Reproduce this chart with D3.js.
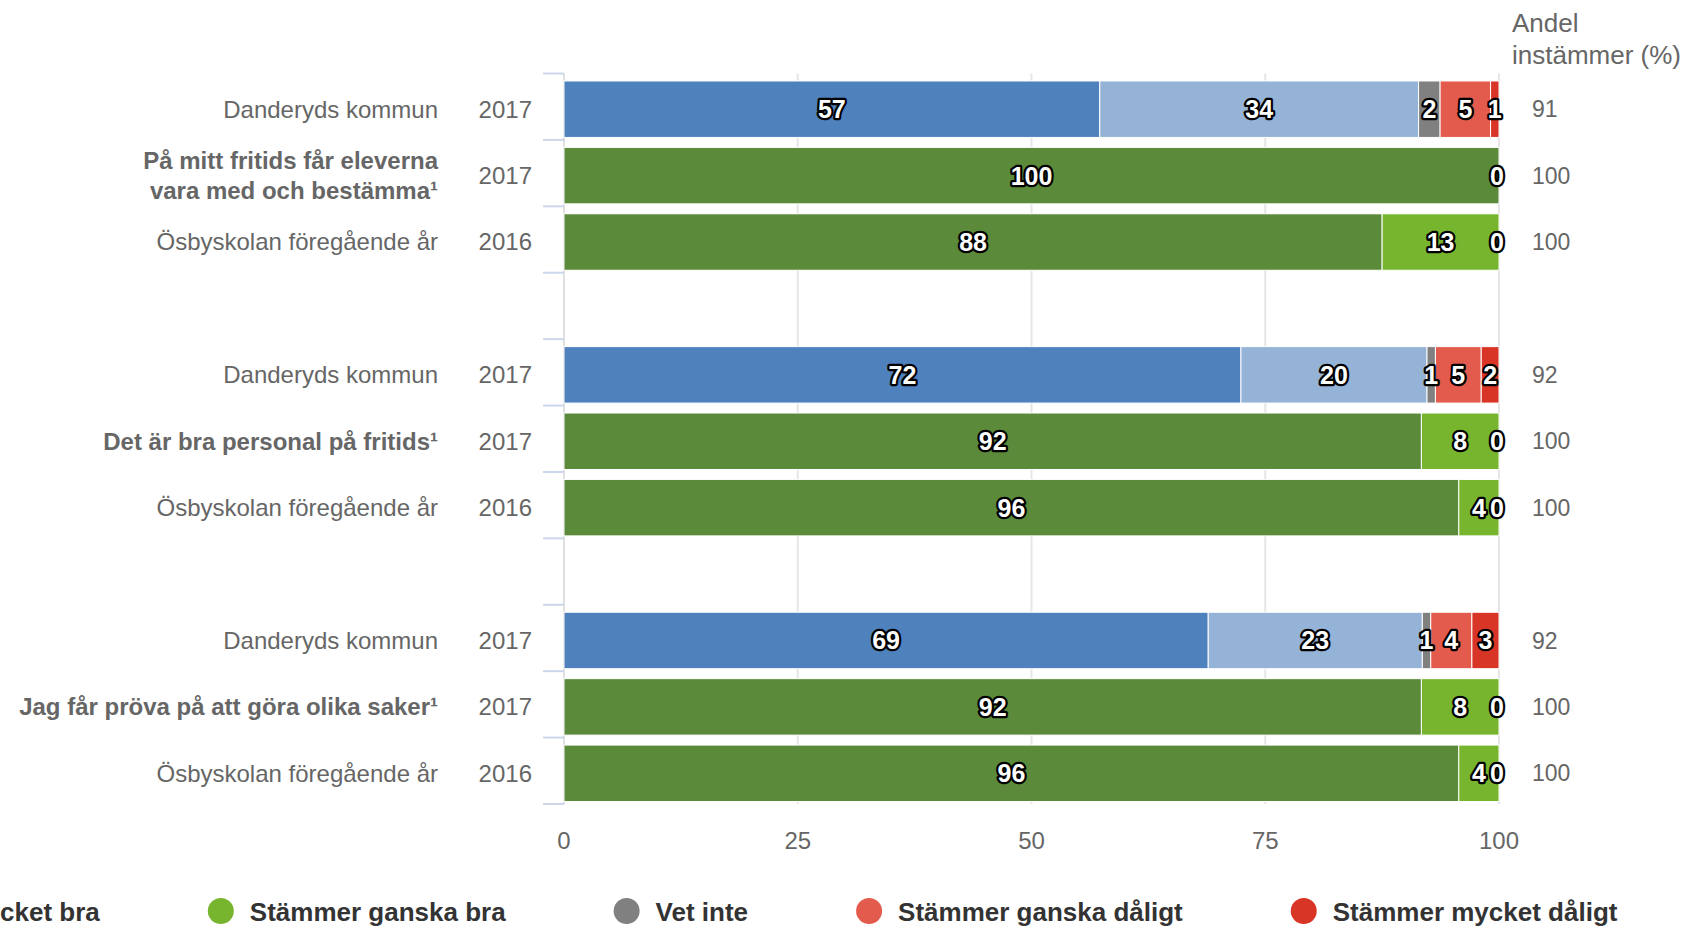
<!DOCTYPE html>
<html>
<head>
<meta charset="utf-8">
<script src="https://cdn.jsdelivr.net/npm/d3@7"></script>
<style>
  body { margin: 0; background: #fff; }
  svg { display: block; font-family: "Liberation Sans", Arial, sans-serif; }
</style>
</head>
<body>
<div id="chart"></div>
<script>
// Data (one entry per bar row, grouped by question)
const questions = [
  "På mitt fritids får eleverna\nvara med och bestämma¹",
  "Det är bra personal på fritids¹",
  "Jag får pröva på att göra olika saker¹"
];
const rowUnits = ["Danderyds kommun", null, "Ösbyskolan föregående år"];
const rowYears = ["2017", "2017", "2016"];
const seriesNames = ["Stämmer mycket bra", "Stämmer ganska bra", "Vet inte", "Stämmer ganska dåligt", "Stämmer mycket dåligt"];

const mycketBra    = [57.3, 100, 87.5, 72.4, 91.7, 95.7, 68.9, 91.7, 95.7];
const ganskaBra    = [34.1, null, 12.5, 19.9, 8.3, 4.3, 22.9, 8.3, 4.3];
const vetInte      = [2.3, null, null, 0.9, null, null, 0.9, null, null];
const ganskaDaligt = [5.4, 0, 0, 4.9, 0, 0, 4.4, 0, 0];
const mycketDaligt = [0.9, null, null, 1.9, null, null, 2.9, null, null];
const andel        = [91, 100, 100, 92, 100, 100, 92, 100, 100];

const kommunColors = ["#4f81bd", "#95b3d7", "#808080", "#e35b4d", "#d93526"];
const skolaColors  = ["#5b8a3a", "#77b52f", "#808080", "#e35b4d", "#d93526"];
const xTicks = [0, 25, 50, 75, 100];

const width = 1700, height = 929;
const allSeries = [mycketBra, ganskaBra, vetInte, ganskaDaligt, mycketDaligt];

const svg = d3.select("#chart").append("svg")
  .attr("width", width)
  .attr("height", height);

// slots: 3 rows per question plus one empty slot between questions
const slotCount = questions.length * 4 - 1;
const rowSlot = i => Math.floor(i / 3) * 4 + (i % 3);

const plotTop = 73.5, plotBottom = 804;
const x = d3.scaleLinear().domain([0, 100]).range([564, 1499]);
const y = d3.scaleBand()
  .domain(d3.range(slotCount))
  .range([plotTop, plotBottom])
  .paddingInner(0.15)
  .paddingOuter(0.075);
const barShift = 2.5;
const step = y.step();
const tickY = d => d < slotCount ? y(d) - y.paddingInner() * step / 2 : plotBottom;

// grid lines
svg.append("g")
  .selectAll("line")
  .data(xTicks.slice(1))
  .join("line")
  .attr("x1", d => x(d)).attr("x2", d => x(d))
  .attr("y1", plotTop).attr("y2", plotBottom)
  .attr("stroke", "#e6e6e6")
  .attr("stroke-width", 2);

// y axis line and category ticks
svg.append("line")
  .attr("x1", x(0)).attr("x2", x(0))
  .attr("y1", plotTop).attr("y2", plotBottom)
  .attr("stroke", "#e0e0e0")
  .attr("stroke-width", 2);

svg.append("g")
  .selectAll("line")
  .data(d3.range(slotCount + 1))
  .join("line")
  .attr("x1", x(0) - 21).attr("x2", x(0))
  .attr("y1", tickY)
  .attr("y2", tickY)
  .attr("stroke", "#ccd6eb")
  .attr("stroke-width", 2);

// rows
const rows = d3.range(mycketBra.length).map(i => {
  const q = Math.floor(i / 3), r = i % 3;
  let x0 = 0;
  const segs = [];
  allSeries.forEach((s, k) => {
    const v = s[i];
    if (v === null) return;
    segs.push({k, v, x0, x1: x0 + v, row: i});
    x0 += v;
  });
  return {
    i, q, r,
    slot: rowSlot(i),
    unit: r === 1 ? questions[q] : rowUnits[r],
    bold: r === 1,
    year: rowYears[r],
    andel: andel[i],
    colors: r === 0 ? kommunColors : skolaColors,
    segs
  };
});

const barG = svg.append("g");
rows.forEach(row => {
  const top = y(row.slot) + barShift;
  barG.append("g")
    .selectAll("rect")
    .data(row.segs.filter(s => s.v > 0))
    .join("rect")
    .attr("x", s => x(s.x0))
    .attr("width", s => x(s.x1) - x(s.x0))
    .attr("y", top)
    .attr("height", y.bandwidth())
    .attr("fill", s => row.colors[s.k])
    .attr("stroke", "#fff")
    .attr("stroke-width", 1);
});

// data labels
const labelG = svg.append("g");
rows.forEach(row => {
  const cy = y(row.slot) + barShift + y.bandwidth() / 2;
  labelG.append("g")
    .selectAll("text")
    .data(row.segs)
    .join("text")
    .attr("x", s => x((s.x0 + s.x1) / 2) - (s.v === 0 ? 2 : 0))
    .attr("y", cy)
    .attr("dy", "0.36em")
    .attr("text-anchor", "middle")
    .attr("font-size", 25)
    .attr("font-weight", "bold")
    .attr("fill", "#fff")
    .attr("stroke", "#000")
    .attr("stroke-width", 4.5)
    .attr("stroke-linejoin", "round")
    .attr("paint-order", "stroke")
    .text(s => Math.round(s.v));
});

// category labels
const catG = svg.append("g");
rows.forEach(row => {
  const cy = y(row.slot) + barShift + y.bandwidth() / 2;
  const lines = row.unit.split("\n");
  const t = catG.append("text")
    .attr("x", 438)
    .attr("y", cy)
    .attr("text-anchor", "end")
    .attr("font-size", 24)
    .attr("font-weight", row.bold ? "bold" : "normal")
    .attr("fill", "#666");
  lines.forEach((ln, j) => {
    t.append("tspan")
      .attr("x", 438)
      .attr("y", cy + (j - (lines.length - 1) / 2) * 30)
      .attr("dy", "0.35em")
      .text(ln);
  });
  catG.append("text")
    .attr("x", 532)
    .attr("y", cy)
    .attr("dy", "0.35em")
    .attr("text-anchor", "end")
    .attr("font-size", 24)
    .attr("fill", "#666")
    .text(row.year);
  catG.append("text")
    .attr("x", 1532)
    .attr("y", cy)
    .attr("dy", "0.35em")
    .attr("font-size", 23)
    .attr("fill", "#666")
    .text(row.andel);
});

// right header
svg.append("text")
  .attr("x", 1512).attr("y", 32)
  .attr("font-size", 26).attr("fill", "#666")
  .text("Andel");
svg.append("text")
  .attr("x", 1512).attr("y", 64)
  .attr("font-size", 26).attr("fill", "#666")
  .text("instämmer (%)");

// x axis labels
svg.append("g")
  .selectAll("text")
  .data(xTicks)
  .join("text")
  .attr("x", d => x(d))
  .attr("y", 849)
  .attr("text-anchor", "middle")
  .attr("font-size", 24)
  .attr("fill", "#666")
  .text(d => d);

// legend (overflows to the left like the original)
const legendColors = [skolaColors[0], skolaColors[1], kommunColors[2], kommunColors[3], kommunColors[4]];
const legend = svg.append("g");
let lx = -198;
seriesNames.forEach((name, k) => {
  const item = legend.append("g").attr("transform", `translate(${lx},0)`);
  item.append("circle")
    .attr("cx", 13).attr("cy", 911).attr("r", 13)
    .attr("fill", legendColors[k]);
  const t = item.append("text")
    .attr("x", 42).attr("y", 921)
    .attr("font-size", 26)
    .attr("font-weight", "bold")
    .attr("fill", "#333")
    .text(name);
  lx += 42 + t.node().getComputedTextLength() + 108;
});
</script>
</body>
</html>
